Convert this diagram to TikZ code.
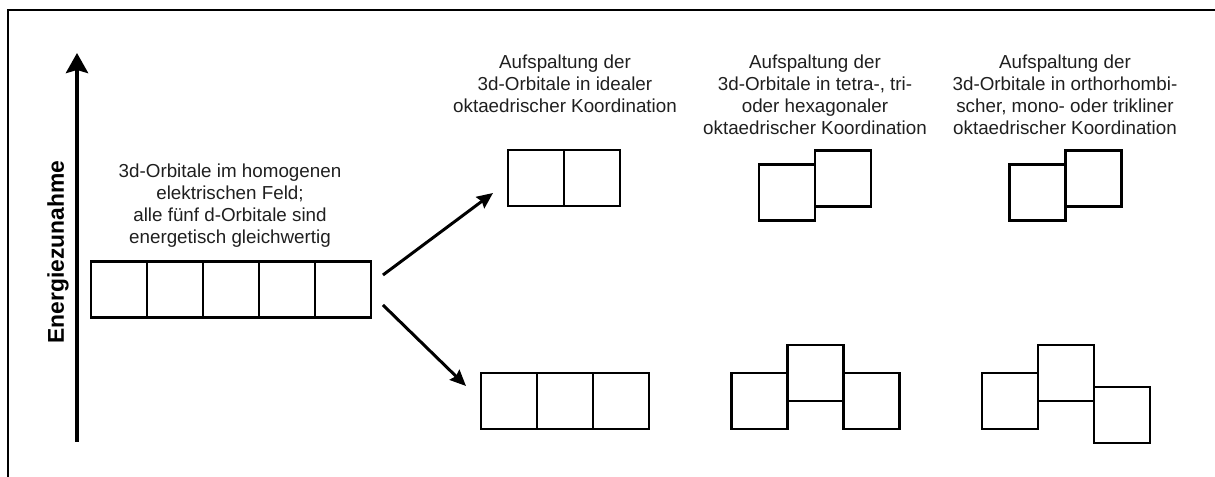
\documentclass[tikz,border=0pt]{standalone}
\usepackage{fontspec}
\setmainfont{Liberation Sans}
\usetikzlibrary{positioning,arrows.meta}
\tikzset{
  orb/.style={draw, line width=1.55pt, minimum size=1.12cm, inner sep=0pt, outer sep=0pt},
  txt/.style={align=center, inner sep=0pt, text=black!88, font=\fontsize{10.7}{12.4}\selectfont},
  split/.style={line width=1.7pt, -{Stealth[length=0.32cm, width=0.28cm, inset=0.04cm]}}
}

\begin{document}
\begin{tikzpicture}[x=0.02cm, y=0.02cm]
  \useasboundingbox (0,0) rectangle (1215,477);
  \draw[line width=1.1pt] (8,0) -- (8,467) -- (1215,467);

  % energy axis
  \coordinate (e0) at (77,35);
  \coordinate (e1) at (77,424);
  \draw[line width=2.3pt, -{Stealth[length=0.4cm, width=0.44cm, inset=0.06cm]}] (e0) -- (e1);
  \node[rotate=90, font=\bfseries\fontsize{13}{15}\selectfont] (ez) at (58,225) {Energiezunahme};

  % five degenerate orbitals
  \node[orb] (d1) at (119,187.5) {};
  \foreach \i [count=\j from 2] in {1,...,4}
    \node[orb, right=0pt of d\i] (d\j) {};
  \node[txt, anchor=north] (t0) at (230,313) {3d-Orbitale im homogenen\\elektrischen Feld;\\alle fünf d-Orbitale sind\\energetisch gleichwertig};

  % ideal octahedral
  \node[orb] (eg1) at (536,299) {};
  \node[orb, right=0pt of eg1] (eg2) {};
  \node[orb] (tg1) at (509,76) {};
  \node[orb, right=0pt of tg1] (tg2) {};
  \node[orb, right=0pt of tg2] (tg3) {};
  \node[txt, anchor=north] (t1) at (565,422) {Aufspaltung der\\3d-Orbitale in idealer\\oktaedrischer Koordination};

  % tetragonal, trigonal, hexagonal
  \node[orb] (a1) at (787,284.5) {};
  \node[orb, right=0pt of a1, yshift=0.28cm] (a2) {};
  \node[orb] (b1) at (759.5,76) {};
  \node[orb, right=0pt of b1, yshift=0.56cm] (b2) {};
  \node[orb, right=0pt of b2, yshift=-0.56cm] (b3) {};
  \node[txt, anchor=north] (t2) at (815,422) {Aufspaltung der\\3d-Orbitale in tetra-, tri-\\oder hexagonaler\\oktaedrischer Koordination};

  % orthorhombic, monoclinic, triclinic
  \node[orb] (c1) at (1037.5,284.5) {};
  \node[orb, right=0pt of c1, yshift=0.28cm] (c2) {};
  \node[orb] (f1) at (1010,76) {};
  \node[orb, right=0pt of f1, yshift=0.56cm] (f2) {};
  \node[orb, right=0pt of f2, yshift=-0.84cm] (f3) {};
  \node[txt, anchor=north] (t3) at (1065,422) {Aufspaltung der\\3d-Orbitale in orthorhombi-\\scher, mono- oder trikliner\\oktaedrischer Koordination};

  % splitting arrows
  \coordinate (s1) at ([xshift=0.24cm, yshift=0.29cm]d5.east);
  \coordinate (z1) at ([xshift=-0.3cm, yshift=-0.3cm]eg1.west);
  \coordinate (s2) at ([xshift=0.24cm, yshift=-0.31cm]d5.east);
  \coordinate (z2) at ([xshift=-0.3cm, yshift=-0.26cm]tg1.north west);
  \draw[split] (s1) -- (z1);
  \draw[split] (s2) -- (z2);
\end{tikzpicture}
\end{document}
